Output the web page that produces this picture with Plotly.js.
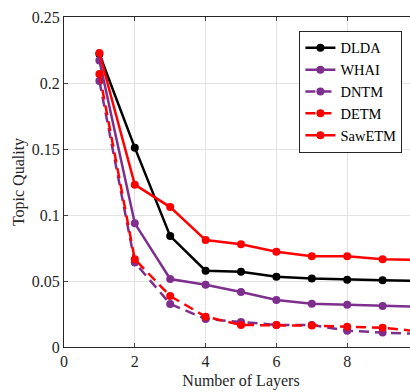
<!DOCTYPE html>
<html>
<head>
<meta charset="utf-8">
<script src="https://cdn.plot.ly/plotly-3.0.1.min.js"></script>
<style>
html,body{margin:0;padding:0;overflow:hidden;background:#fff;}
#chart{width:430px;height:392px;}
</style>
</head>
<body>
<div id="chart"></div>
<script>
const layers = [1, 2, 3, 4, 5, 6, 7, 8, 9, 10];
const dlda   = [0.222, 0.151, 0.084, 0.0578, 0.057, 0.0533, 0.0518, 0.051, 0.0505, 0.050];
const whai   = [0.217, 0.0937, 0.0515, 0.0472, 0.0417, 0.0356, 0.0328, 0.032, 0.031, 0.0305];
const dntm   = [0.2015, 0.064, 0.0326, 0.0212, 0.019, 0.0167, 0.0167, 0.0124, 0.0109, 0.010];
const detm   = [0.2068, 0.0664, 0.0386, 0.023, 0.0167, 0.0167, 0.0162, 0.0154, 0.0146, 0.012];
const sawetm = [0.2227, 0.123, 0.106, 0.081, 0.0778, 0.0722, 0.0687, 0.0687, 0.0664, 0.066];
const yTicks = [0, 0.05, 0.1, 0.15, 0.2, 0.25];
const yTickLabels = ['0', '0.05', '0.1', '0.15', '0.2', '0.25'];
const xTicks = [0, 2, 4, 6, 8];

const purple = '#7E2F8E';
function tr(name, y, color, dash) {
  return {x: layers, y: y, name: name, type: 'scatter', mode: 'lines+markers',
    line: {color: color, width: 2.5, dash: dash},
    marker: {color: color, size: 8, symbol: 'circle'}};
}
const data = [
  tr('DLDA', dlda, '#000000', 'solid'),
  tr('WHAI', whai, purple, 'solid'),
  tr('DNTM', dntm, purple, '10px,6px'),
  tr('DETM', detm, '#FF0000', '10px,6px'),
  tr('SawETM', sawetm, '#FF0000', 'solid')
];
const font = {family: 'Liberation Serif, Times New Roman, serif', color: '#262626'};
const layout = {
  width: 430, height: 392,
  margin: {l: 64, r: 12, t: 17, b: 45},
  paper_bgcolor: '#fff', plot_bgcolor: '#fff',
  font: Object.assign({size: 16}, font),
  showlegend: true,
  legend: {x: 0.665, y: 0.958, xanchor: 'left', yanchor: 'top',
    bgcolor: '#fff', bordercolor: '#262626', borderwidth: 1, itemwidth: 30,
    font: Object.assign({size: 14.5}, font, {color: '#000'}), tracegroupgap: 0},
  xaxis: {range: [0, 10], tickvals: xTicks, ticks: 'inside', ticklen: 4,
    showline: true, linecolor: '#262626', linewidth: 1, mirror: 'ticks',
    showgrid: true, gridcolor: '#e3e3e3', zeroline: false,
    tickfont: Object.assign({size: 16}, font),
    title: {text: 'Number of Layers', font: Object.assign({size: 16}, font), standoff: 5}},
  yaxis: {range: [0, 0.25], tickvals: yTicks, ticktext: yTickLabels, ticks: 'inside', ticklen: 4,
    showline: true, linecolor: '#262626', linewidth: 1, mirror: 'ticks',
    showgrid: true, gridcolor: '#e3e3e3', zeroline: false,
    tickfont: Object.assign({size: 16}, font),
    title: {text: 'Topic Quality', font: Object.assign({size: 16}, font), standoff: 3}}
};
Plotly.newPlot('chart', data, layout, {staticPlot: true, displayModeBar: false});
</script>
</body>
</html>
